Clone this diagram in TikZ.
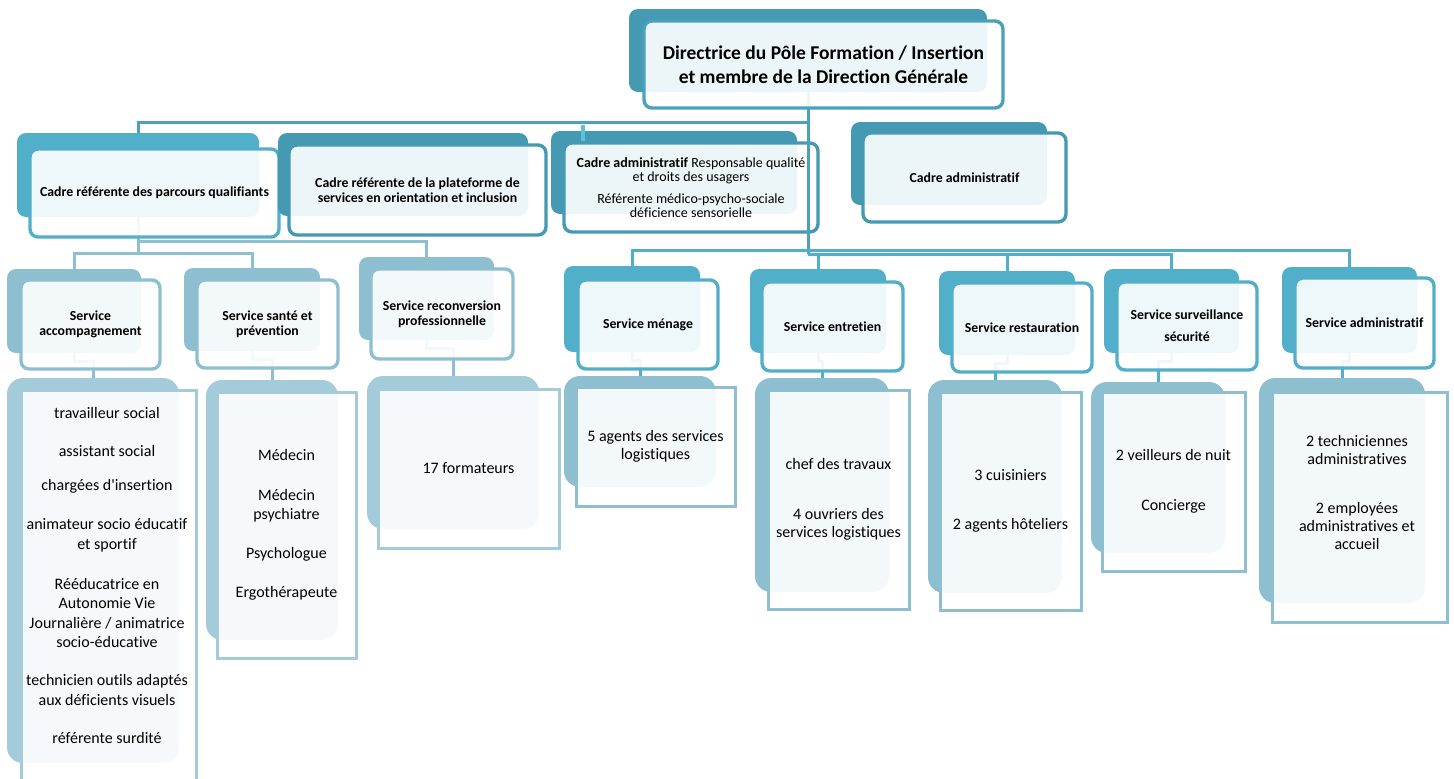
\documentclass[tikz,border=0pt]{standalone}
\usepackage{fontspec}
\setmainfont[Ligatures={TeX,NoCommon}]{Carlito}
\usepackage{xcolor}
\usetikzlibrary{positioning, calc, backgrounds}

\definecolor{tealdark}{HTML}{4599B3}
\definecolor{tealtop}{HTML}{4BA1BB}
\definecolor{tealmid}{HTML}{52AFC9}
\definecolor{bluesoft}{HTML}{8DBFD1}
\definecolor{bluepale}{HTML}{A4CBDA}
\definecolor{tickcyan}{HTML}{5CC2D8}

\begin{document}
\begin{tikzpicture}[
  x=1pt, y=-1pt,
  backbox/.style={fill=#1, draw=none, rounded corners=9pt, inner sep=0pt},
  frontbox/.style={draw=#1, line width=3.4pt, fill=white, fill opacity=0.9,
    text opacity=1, rounded corners=8pt, align=center, inner sep=0pt},
  listbackbox/.style={fill=#1, draw=none, rounded corners=16pt, inner sep=0pt},
  listfrontbox/.style={draw=#1, line width=3pt, fill=white, fill opacity=0.9,
    text opacity=1, sharp corners, align=center, inner sep=0pt},
  headfont/.style={font=\fontsize{13.8}{15}\selectfont\bfseries},
  listfont/.style={font=\fontsize{16}{19.5}\selectfont},
  stafffont/.style={font=\fontsize{16}{18}\selectfont},
  link/.style={draw=#1, line width=3pt}
]
\useasboundingbox (0,0) rectangle (1454,779);

% direction
\node[backbox=tealdark, minimum width=358, minimum height=83] (dirB) at (808,50.5) {};
\node[frontbox=tealtop, minimum width=359, minimum height=87,
  font=\fontsize{19.5}{24}\selectfont\bfseries] (dir) at (823.5,64.5)
  {Directrice du Pôle Formation / Insertion\\et membre de la Direction Générale};

% cadres
\node[backbox=tealmid, minimum width=242, minimum height=84] (parcB) at (138,175) {};
\node[frontbox=tealmid, minimum width=249, minimum height=88, headfont] (parc) at (154.5,193)
  {Cadre référente des parcours qualifiants};
\node[backbox=tealdark, minimum width=250, minimum height=83] (platB) at (403,174.5) {};
\node[frontbox=tealdark, minimum width=257, minimum height=90, headfont] (plat) at (417.5,190)
  {Cadre référente de la plateforme de\\services en orientation et inclusion};
\node[backbox=tealdark, minimum width=246, minimum height=83] (qualB) at (674,172.5) {};
\node[frontbox=tealdark, minimum width=254, minimum height=89,
  font=\fontsize{14}{14}\selectfont] (qual) at (691,187.5)
  {\textbf{Cadre administratif} Responsable qualité\\et droits des usagers\\[8pt]
   Référente médico-psycho-sociale\\déficience sensorielle};
\node[backbox=tealdark, minimum width=196, minimum height=83] (admB) at (949,163.5) {};
\node[frontbox=tealdark, minimum width=203, minimum height=89, headfont] (adm) at (964.5,177.5)
  {Cadre administratif};

% services (left)
\node[backbox=bluesoft, minimum width=134, minimum height=84] (accB) at (74,311) {};
\node[frontbox=bluesoft, minimum width=139, minimum height=89, headfont] (acc) at (90.5,324.5)
  {Service\\accompagnement};
\node[backbox=bluesoft, minimum width=136, minimum height=83] (santeB) at (252,309.5) {};
\node[frontbox=bluesoft, minimum width=141, minimum height=88, headfont] (sante) at (267.5,324)
  {Service santé et\\prévention};
\node[backbox=bluesoft, minimum width=135, minimum height=83] (reconvB) at (426.5,298.5) {};
\node[frontbox=bluesoft, minimum width=142, minimum height=90, headfont] (reconv) at (442,314)
  {Service reconversion\\professionnelle};

% services (right)
\node[backbox=tealmid, minimum width=136, minimum height=86] (menB) at (632,309) {};
\node[frontbox=tealmid, minimum width=140, minimum height=89, headfont] (men) at (648,324.5)
  {Service ménage};
\node[backbox=tealmid, minimum width=136, minimum height=84] (entB) at (818,311) {};
\node[frontbox=tealmid, minimum width=141, minimum height=89, headfont] (ent) at (832.5,326.5)
  {Service entretien};
\node[backbox=tealmid, minimum width=136, minimum height=84] (restB) at (1007,313) {};
\node[frontbox=tealmid, minimum width=140, minimum height=89, headfont] (rest) at (1022,327.5)
  {Service restauration};
\node[backbox=tealmid, minimum width=135, minimum height=84] (survB) at (1171.5,311) {};
\node[frontbox=tealmid, minimum width=140, minimum height=88, headfont] (surv) at (1187,326)
  {Service surveillance\\[7pt]sécurité};
\node[backbox=tealmid, minimum width=135, minimum height=86] (sadmB) at (1349.5,310) {};
\node[frontbox=tealmid, minimum width=139, minimum height=90, headfont] (sadm) at (1364.5,323)
  {Service administratif};

% staff lists (left)
\node[listbackbox=bluepale, minimum width=172, minimum height=385] (accLB) at (93,570.5) {};
\node[listfrontbox=bluepale, minimum width=175, minimum height=410] (accL) at (108.5,595) {};
\node[listfont, align=center] (accT) at (107,575.5)
  {travailleur social\\[18.5pt]assistant social\\[14.5pt]chargées d\textquotesingle insertion\\[19.5pt]
   animateur socio éducatif\\et sportif\\[20.5pt]
   Rééducatrice en\\Autonomie Vie\\Journalière / animatrice\\socio-éducative\\[18.5pt]
   technicien outils adaptés\\aux déficients visuels\\[18.5pt]référente surdité};
\node[listbackbox=bluepale, minimum width=132, minimum height=260] (santeLB) at (272,510) {};
\node[listfrontbox=bluepale, minimum width=139, minimum height=266, listfont] (santeL) at (286.5,525)
  {Médecin\\[20.5pt]Médecin\\psychiatre\\[19.5pt]Psychologue\\[19.5pt]Ergothérapeute};
\node[listbackbox=bluepale, minimum width=172, minimum height=153] (reconvLB) at (453,452.5) {};
\node[listfrontbox=bluepale, minimum width=181, minimum height=159, listfont] (reconvL) at (468.5,468.5)
  {17 formateurs};

% staff lists (right)
\node[listbackbox=bluesoft, minimum width=152, minimum height=111] (menLB) at (640,431.5) {};
\node[listfrontbox=bluesoft, minimum width=159, minimum height=119, stafffont] (menL) at (655.5,446.5)
  {5 agents des services\\logistiques};
\node[listbackbox=bluesoft, minimum width=134, minimum height=214] (entLB) at (822,485) {};
\node[listfrontbox=bluesoft, minimum width=141, minimum height=219, stafffont] (entL) at (838.5,499.5)
  {chef des travaux\\[32pt]4 ouvriers des\\services logistiques};
\node[listbackbox=bluesoft, minimum width=134, minimum height=213] (restLB) at (995,486.5) {};
\node[listfrontbox=bluesoft, minimum width=141, minimum height=218, stafffont] (restL) at (1010.5,501)
  {3 cuisiniers\\[31pt]2 agents hôteliers};
\node[listbackbox=bluesoft, minimum width=134, minimum height=171] (survLB) at (1158,467.5) {};
\node[listfrontbox=bluesoft, minimum width=143, minimum height=179, stafffont] (survL) at (1173.5,481.5)
  {2 veilleurs de nuit\\[32pt]Concierge};
\node[listbackbox=bluesoft, minimum width=166, minimum height=225] (sadmLB) at (1342,490.5) {};
\node[listfrontbox=bluesoft, minimum width=175, minimum height=230] (sadmL) at (1359.5,507) {};
\node[stafffont, align=center] (sadmT) at (1357,492.5)
  {2 techniciennes\\administratives\\[31pt]2 employées\\administratives et\\accueil};

% junctions
\coordinate (topbar) at (808,122);
\coordinate (midbar) at (808,250);
\coordinate (lowbar) at (808,254);
\coordinate (leftbar) at (138,253);
\coordinate (reconvbar) at (138,241);
\coordinate (qualtick) at (583,125);

\begin{scope}[on background layer]
  \fill[white] (0,0) rectangle (1454,779);
  \draw[link=tealtop] (dirB.south) -- (topbar);
  \draw[link=bluesoft] (parcB.south) -- (leftbar);
  \draw[link=bluesoft] (leftbar) -| (accB.north);
  \draw[link=bluesoft] (leftbar) -| (santeB.north);
  \draw[link=bluesoft] (reconvbar) -| (reconvB.north);
  % service -> staff
  \foreach \s/\col in {acc/bluesoft, sante/bluesoft, reconv/bluesoft, men/tealmid,
                       ent/tealmid, rest/tealmid, surv/tealmid, sadm/tealmid}
    \draw[link=\col] (\s B.south) -- ++(0,8) -| (\s LB.north);
\end{scope}

\draw[link=tealtop] (topbar) -| (parcB.north);
\draw[link=tealtop] (topbar) -- (lowbar);
\draw[link=tealmid] (midbar) -| (menB.north);
\draw[link=tealmid] (midbar) -| (sadmB.north);
\foreach \s in {ent, rest, surv}
  \draw[link=tealmid] (lowbar) -| (\s B.north);
\draw[line width=4pt, tickcyan] (qualtick) -- (qualtick |- qual.north);
\end{tikzpicture}
\end{document}
